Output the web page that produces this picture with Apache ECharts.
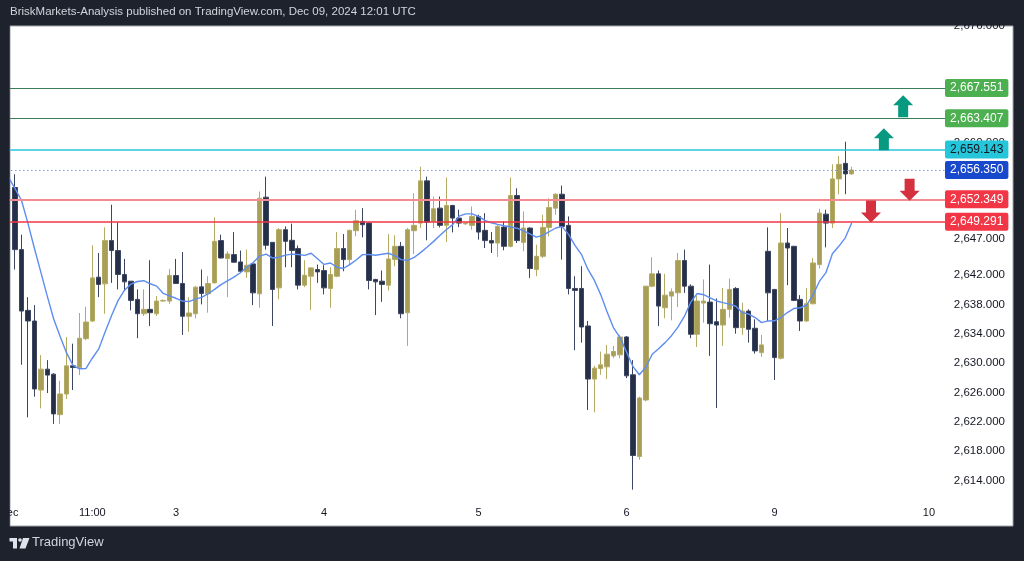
<!DOCTYPE html>
<html>
<head>
<meta charset="utf-8">
<script src="https://cdn.jsdelivr.net/npm/echarts@6/dist/echarts.min.js"></script>
<style>
html,body{margin:0;padding:0;background:#1e222d;}
#chart{width:1024px;height:561px;}
</style>
</head>
<body>
<div id="chart"></div>
<script>
// ---- data (1h candles, Dec 2 - Dec 9 2024) ----
var opens = [2653.96,2645.49,2637.2,2635.75,2626.33,2629.18,2628.5,2622.97,2625.79,2629.63,
2629.4,2633.34,2635.75,2641.73,2640.82,2646.72,2645.36,2642.1,2641.18,2638.7,
2636.74,2637.34,2636.74,2638.47,2638.47,2641.96,2640.87,2636.39,2636.74,2640.41,
2639.46,2640.95,2646.72,2644.27,2644.81,2643.81,2642.45,2643.54,2639.46,2652.64,
2646.48,2640.27,2648.21,2646.76,2645.63,2640.64,2641.86,2642.77,2642.63,2640.19,
2641.86,2645.63,2644.13,2648.07,2649.34,2649.11,2641.42,2641.18,2640.64,2644.13,
2645.94,2636.88,2648.07,2649.11,2654.87,2649.34,2651.15,2648.8,2651.51,2649.79,
2649.0,2648.8,2650.02,2648.12,2646.72,2646.39,2648.56,2645.94,2652.87,2646.48,
2648.43,2642.77,2644.58,2648.52,2651.15,2653.05,2648.8,2640.19,2640.19,2635.07,
2627.83,2629.27,2629.5,2630.99,2631.13,2633.57,2628.41,2617.27,2624.97,2640.5,
2642.18,2637.56,2639.15,2639.59,2644.0,2640.5,2633.94,2638.2,2638.33,2635.65,
2635.2,2637.34,2640.19,2634.84,2637.11,2634.76,2631.44,2645.26,2640.06,2630.68,
2646.39,2645.94,2638.7,2635.75,2638.1,2643.45,2650.33,2649.11,2655.14,2657.26,
2655.82];
var highs = [2655.77,2647.53,2639.0,2637.92,2631.09,2630.41,2628.6,2627.6,2633.57,2632.66,
2636.84,2637.69,2646.08,2645.03,2648.52,2651.61,2649.2,2644.22,2641.2,2640.06,
2640.06,2644.04,2639.15,2638.7,2642.86,2644.22,2645.17,2639.0,2640.5,2642.77,
2641.86,2649.88,2647.53,2645.26,2647.88,2645.36,2645.49,2643.6,2653.42,2655.45,
2646.5,2648.43,2648.66,2649.03,2646.04,2644.04,2643.1,2643.45,2643.36,2643.09,
2647.88,2647.61,2648.21,2650.93,2651.15,2649.2,2641.5,2642.64,2647.61,2647.44,
2646.53,2648.43,2653.18,2656.81,2655.45,2652.74,2652.74,2655.32,2651.6,2650.93,
2649.2,2651.38,2650.25,2650.47,2647.88,2648.89,2649.34,2655.32,2653.86,2650.7,
2648.52,2646.17,2650.25,2652.5,2653.18,2654.23,2650.02,2641.86,2643.22,2635.75,
2629.63,2631.58,2632.49,2632.35,2633.85,2633.7,2630.41,2625.42,2640.5,2644.45,
2642.64,2642.18,2640.19,2645.03,2645.49,2640.74,2639.15,2641.42,2643.45,2638.83,
2640.27,2641.55,2640.37,2638.24,2637.34,2635.98,2633.85,2648.52,2640.1,2650.47,
2648.43,2646.0,2639.28,2640.27,2644.35,2651.06,2650.93,2657.13,2658.27,2660.21,
2656.8];
var lows = [2642.77,2629.77,2622.61,2625.42,2623.83,2625.92,2621.71,2621.71,2625.11,2626.33,
2628.37,2633.13,2635.61,2639.01,2636.74,2640.95,2640.06,2639.83,2637.2,2633.4,
2636.43,2635.07,2636.43,2638.4,2638.1,2640.82,2633.85,2634.29,2636.12,2638.02,
2636.88,2640.9,2644.27,2639.01,2643.7,2642.31,2641.63,2637.92,2637.56,2645.49,
2635.07,2638.7,2643.09,2643.09,2640.06,2640.37,2637.24,2640.95,2639.38,2637.56,
2641.73,2642.54,2643.36,2647.3,2647.16,2640.06,2636.56,2638.37,2639.92,2643.22,
2636.12,2632.35,2644.9,2648.43,2646.76,2648.43,2648.52,2646.53,2647.84,2648.56,
2648.9,2648.21,2646.85,2645.71,2645.03,2644.49,2645.4,2645.8,2646.39,2645.26,
2641.63,2641.86,2644.35,2647.3,2650.25,2644.13,2639.38,2631.77,2632.8,2623.61,
2623.29,2628.41,2627.83,2630.68,2630.68,2627.96,2612.74,2616.82,2624.78,2640.37,
2635.07,2636.12,2635.84,2637.65,2639.59,2633.4,2632.21,2635.52,2630.99,2623.88,
2632.35,2636.2,2634.02,2633.85,2632.8,2631.3,2630.86,2635.75,2627.69,2630.5,
2640.64,2638.47,2634.39,2635.66,2638.02,2642.91,2645.8,2648.43,2653.05,2653.05,
2655.7];
var closes = [2645.49,2637.11,2635.75,2626.47,2629.18,2628.37,2623.07,2625.79,2629.63,2629.4,
2633.4,2635.61,2641.63,2640.74,2646.72,2645.36,2642.1,2641.09,2638.56,2636.74,
2637.34,2636.88,2638.47,2638.56,2641.96,2640.87,2636.39,2636.84,2640.37,2639.51,
2640.87,2646.62,2644.35,2644.9,2643.77,2642.54,2643.36,2639.59,2652.5,2646.08,
2640.06,2648.21,2646.62,2645.36,2640.64,2642.0,2642.99,2642.45,2640.27,2642.1,
2645.63,2644.13,2648.12,2649.43,2648.89,2641.28,2641.09,2640.74,2644.22,2645.94,
2636.74,2648.21,2648.8,2654.87,2649.24,2651.06,2648.8,2651.51,2649.79,2649.11,
2649.1,2650.02,2647.88,2646.72,2646.39,2648.66,2645.94,2652.87,2646.72,2648.43,
2642.91,2644.58,2648.52,2651.24,2653.05,2648.66,2640.19,2639.92,2634.93,2627.83,
2629.32,2629.77,2631.22,2631.58,2633.57,2628.27,2617.4,2625.24,2640.5,2642.18,
2637.79,2639.28,2639.73,2644.0,2640.5,2633.94,2638.47,2638.47,2635.38,2635.2,
2637.34,2640.06,2634.84,2637.11,2634.62,2631.67,2632.49,2639.59,2630.76,2646.39,
2645.71,2638.56,2635.75,2638.1,2643.67,2650.47,2649.11,2655.14,2657.13,2655.82,
2656.35];
// moving average, starting one slot before first candle
var maVals = [2655.32,2653.82,2652.19,2649.07,2645.67,2642.41,2639.15,2636.02,2633.63,2631.4,2629.69,
2629.23,2629.25,2630.67,2631.94,2634.28,2636.51,2638.53,2639.96,2640.78,2641.14,
2641.25,2640.83,2640.51,2639.53,2639.17,2638.85,2638.47,2638.4,2638.74,2638.97,
2639.47,2640.06,2640.72,2641.23,2641.73,2642.34,2643.09,2643.73,2644.61,2644.88,
2644.35,2644.45,2644.73,2644.88,2644.83,2644.7,2644.99,2644.24,2643.47,2643.66,
2643.09,2642.91,2643.44,2644.08,2644.81,2644.83,2644.73,2644.85,2644.99,2644.66,
2644.13,2644.01,2644.42,2645.08,2645.82,2646.58,2647.41,2648.2,2648.9,2650.05,
2650.37,2650.37,2650.02,2649.47,2649.15,2648.93,2648.74,2648.58,2648.41,2648.06,
2647.65,2647.19,2647.44,2647.93,2648.44,2648.62,2647.57,2646.08,2644.85,2642.82,
2641.32,2639.35,2636.97,2634.8,2633.48,2631.54,2629.55,2628.41,2629.43,2631.22,
2631.96,2632.8,2633.75,2634.92,2636.37,2638.33,2639.5,2639.34,2638.92,2638.48,
2638.25,2638.06,2637.76,2636.9,2636.7,2636.22,2635.53,2635.76,2635.78,2636.22,
2636.9,2637.45,2637.56,2637.9,2639.35,2641.18,2642.34,2644.92,2645.94,2647.1,
2649.11];

var slotCount = 147;        // category slots on the time axis
var firstCandleSlot = 2;
var maFirstSlot = 1;
var xTickIndex = [1, 14, 27, 50, 74, 97, 120, 144];
var xTickText = ['Dec', '11:00', '3', '4', '5', '6', '9', '10'];
var yTicks = [2614, 2618, 2622, 2626, 2630, 2634, 2638, 2642, 2647, 2660, 2668, 2676];

var levelVals = [2667.551, 2663.407, 2659.143, 2656.350, 2652.349, 2649.291];
var levelColors = ['#3a7d58', '#3a7d58', '#26c6da', '#7d9de6', '#f48b93', '#f23645'];
var levelLabelBg = ['#4caf50', '#4caf50', '#26c6da', '#1848cc', '#f23645', '#f23645'];
var levelLabelText = ['#ffffff', '#ffffff', '#131722', '#ffffff', '#ffffff', '#ffffff'];
var levelWidths = [1, 1, 1.5, 1, 2, 1.5];
var levelTypes = ['solid', 'solid', 'solid', [1.5, 2.5], 'solid', 'solid'];

var arrowSlot = [140, 137, 141, 135];
var arrowPrice = [2665.06, 2660.55, 2653.66, 2650.69];
var arrowDir = ['up', 'up', 'down', 'down'];

// ---- build ----
function fmt(v) {
  var s = Number(v).toFixed(3);
  var p = s.split('.');
  p[0] = p[0].replace(/\B(?=(\d{3})+(?!\d))/g, ',');
  return p[0] + '.' + p[1];
}
var cats = [];
for (var i = 0; i < slotCount; i++) cats.push(String(i));
var tickMap = {};
xTickIndex.forEach(function (ix, j) { tickMap[ix] = xTickText[j]; });

var candleData = [];
for (var i = 0; i < slotCount; i++) {
  var k = i - firstCandleSlot;
  if (k >= 0 && k < opens.length) candleData.push([opens[k], closes[k], lows[k], highs[k]]);
  else candleData.push('-');
}
var maData = [];
for (var i = 0; i < slotCount; i++) {
  var k = i - maFirstSlot;
  maData.push(k >= 0 && k < maVals.length ? maVals[k] : '-');
}

var UP = 'path://M10,0 L20,10 L15,10 L15,22 L5,22 L5,10 L0,10 Z';
var DOWN = 'path://M5,0 L15,0 L15,12 L20,12 L10,22 L0,12 L5,12 Z';

var FONT = "'Liberation Sans', Arial, sans-serif";
var markLineData = levelVals.map(function (v, j) {
  return {
    yAxis: v,
    lineStyle: { color: levelColors[j], width: levelWidths[j], type: levelTypes[j] },
    label: {
      show: true, position: 'end', distance: 0,
      formatter: fmt(v),
      backgroundColor: levelLabelBg[j], color: levelLabelText[j],
      padding: [3, 5, 3, 5], borderRadius: 2,
      fontSize: 12, fontFamily: FONT
    }
  };
});
var markPointData = arrowSlot.map(function (s, j) {
  return {
    coord: [s, arrowPrice[j]],
    symbol: arrowDir[j] === 'up' ? UP : DOWN,
    symbolSize: [20, 22],
    itemStyle: { color: arrowDir[j] === 'up' ? '#089981' : '#d4303e' },
    label: { show: false }
  };
});

var chart = echarts.init(document.getElementById('chart'));
chart.setOption({
  backgroundColor: '#1e222d',
  animation: false,
  textStyle: { fontFamily: FONT },
  grid: { left: -1, right: 79, top: 26, bottom: 63, containLabel: false, outerBoundsMode: 'none' },
  xAxis: {
    type: 'category', data: cats, boundaryGap: true,
    axisLine: { show: false }, axisTick: { show: false }, splitLine: { show: false },
    axisLabel: {
      interval: 0, color: '#131722', fontSize: 11, margin: 9, fontFamily: FONT,
      formatter: function (v, idx) { return tickMap[idx] || ''; }
    }
  },
  yAxis: {
    type: 'value', position: 'right', min: 2611.6, max: 2676,
    axisLine: { show: false }, axisTick: { show: false }, splitLine: { show: false },
    axisLabel: {
      customValues: yTicks, color: '#131722', fontSize: 11.5, align: 'right', margin: 60,
      fontFamily: FONT, formatter: function (v) { return fmt(v); }
    }
  },
  graphic: [
    { type: 'rect', z: -10, shape: { x: 10, y: 26, width: 1003, height: 500 },
      style: { fill: '#ffffff', stroke: '#a3a6af', lineWidth: 1 } },
    { type: 'rect', z: 50, shape: { x: 0, y: 20, width: 9.5, height: 520 }, style: { fill: '#1e222d' } },
    { type: 'rect', z: 50, shape: { x: 930, y: 0, width: 94, height: 24.5 }, style: { fill: '#1e222d' } },
    { type: 'text', z: 60, left: 10, top: 6,
      style: { text: 'BriskMarkets-Analysis published on TradingView.com, Dec 09, 2024 12:01 UTC',
               fill: '#d1d4dc', fontSize: 11.5, fontFamily: FONT } },
    { type: 'polygon', z: 60, shape: { points: [[9.5,538],[17,538],[17,548.5],[13,548.5],[13,541.5],[9.5,541.5]] },
      style: { fill: '#e0e3eb' } },
    { type: 'circle', z: 60, shape: { cx: 20, cy: 540, r: 1.8 }, style: { fill: '#e0e3eb' } },
    { type: 'polygon', z: 60, shape: { points: [[23,538],[29.5,538],[25.5,548.5],[19.5,548.5]] },
      style: { fill: '#e0e3eb' } },
    { type: 'text', z: 60, left: 32, top: 536,
      style: { text: 'TradingView', fill: '#d1d4dc', fontSize: 13, fontFamily: "'Liberation Sans Narrow', " + FONT } }
  ],
  series: [
    {
      type: 'candlestick', data: candleData, barWidth: 5,
      itemStyle: { color: '#a99e56', color0: '#252f48', borderColor: '#b3aa66', borderColor0: '#3d4660', borderWidth: 1 },
      markLine: { silent: true, symbol: ['none', 'none'], animation: false, data: markLineData },
      markPoint: { silent: true, animation: false, data: markPointData }
    },
    {
      type: 'line', data: maData, z: 3, symbol: 'none', smooth: false,
      lineStyle: { color: '#5d8df0', width: 1.4 }
    }
  ]
});
</script>
</body>
</html>
